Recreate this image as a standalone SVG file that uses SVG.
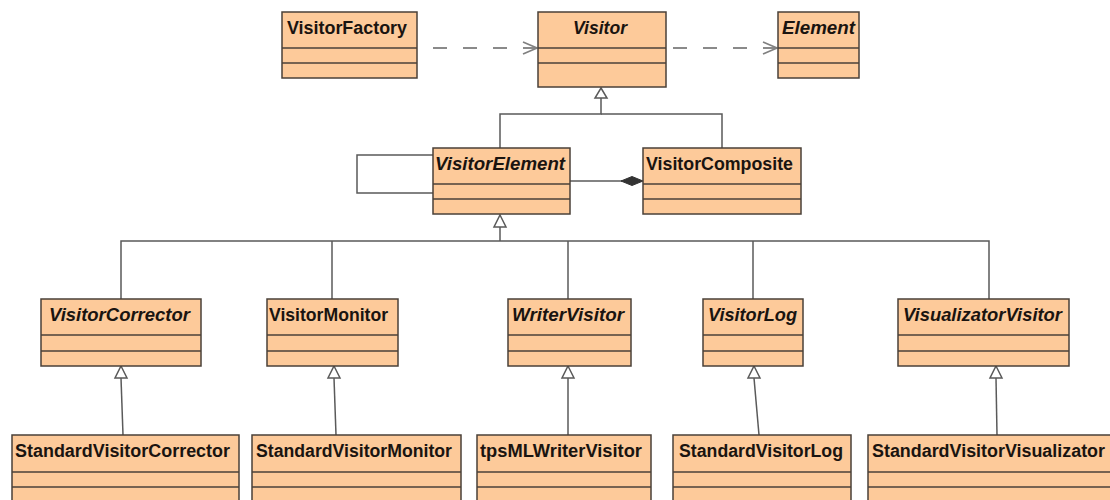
<svg xmlns="http://www.w3.org/2000/svg" width="1110" height="500" viewBox="0 0 1110 500">
<defs>
<style>
.box{fill:#fdca9a;stroke:#4a4038;stroke-width:1.5}
.sep{stroke:#4a4038;stroke-width:1.5}
.t{font-family:"Liberation Sans",Arial,sans-serif;font-weight:bold;font-size:18px;fill:#1a1410}
.i{font-style:italic}
.ln{fill:none;stroke:#5a5a5a;stroke-width:1.5}
.dash{fill:none;stroke:#8a8a8a;stroke-width:2;stroke-dasharray:14 16}
.tri{fill:#fff;stroke:#5a5a5a;stroke-width:1.5}
</style>
<marker id="open" viewBox="0 0 16 14" refX="15" refY="7" markerWidth="16" markerHeight="14" markerUnits="userSpaceOnUse" orient="auto">
<path d="M1,1 L15,7 L1,13" fill="none" stroke="#808080" stroke-width="1.7"/>
</marker>
</defs>
<rect width="1110" height="500" fill="#fff"/>

<g id="connectors">
<line class="dash" x1="433" y1="48" x2="537" y2="48" marker-end="url(#open)"/>
<line class="dash" x1="673" y1="48" x2="777" y2="48" marker-end="url(#open)"/>
<polyline class="ln" points="601,98 601,114 500,114 500,148"/>
<polyline class="ln" points="601,114 722,114 722,148"/>
<path class="tri" d="M601,88 L607,98 L595,98 Z"/>
<polyline class="ln" points="433,155 357,155 357,193 433,193"/>
<line class="ln" x1="570" y1="181" x2="622" y2="181"/>
<path d="M643,181 L632,176.5 L621,181 L632,185.5 Z" fill="#333" stroke="#333"/>
<polyline class="ln" points="500,227 500,241"/>
<polyline class="ln" points="121,299 121,241 989,241 989,299"/>
<line class="ln" x1="332" y1="241" x2="332" y2="299"/>
<line class="ln" x1="568" y1="241" x2="568" y2="299"/>
<line class="ln" x1="753" y1="241" x2="753" y2="299"/>
<path class="tri" d="M500,215 L506,227 L494,227 Z"/>
<line class="ln" x1="121" y1="378" x2="123" y2="435"/>
<line class="ln" x1="334" y1="378" x2="336" y2="435"/>
<line class="ln" x1="568" y1="378" x2="568" y2="435"/>
<line class="ln" x1="754" y1="378" x2="759" y2="435"/>
<line class="ln" x1="996" y1="378" x2="997" y2="435"/>
<path class="tri" d="M121,366 L127,378 L115,378 Z"/>
<path class="tri" d="M334,366 L340,378 L328,378 Z"/>
<path class="tri" d="M568,366 L574,378 L562,378 Z"/>
<path class="tri" d="M754,366 L760,378 L748,378 Z"/>
<path class="tri" d="M996,366 L1002,378 L990,378 Z"/>
</g>

<g id="VisitorFactory">
<rect class="box" x="282" y="12" width="135" height="66"/>
<line class="sep" x1="282" y1="48" x2="417" y2="48"/><line class="sep" x1="282" y1="63" x2="417" y2="63"/>
<text class="t" x="287" y="34" textLength="120" lengthAdjust="spacingAndGlyphs">VisitorFactory</text>
</g>
<g id="Visitor">
<rect class="box" x="538" y="12" width="128" height="75"/>
<line class="sep" x1="538" y1="48" x2="666" y2="48"/><line class="sep" x1="538" y1="63" x2="666" y2="63"/>
<text class="t i" x="573" y="34" textLength="54" lengthAdjust="spacingAndGlyphs">Visitor</text>
</g>
<g id="Element">
<rect class="box" x="778" y="12" width="81" height="66"/>
<line class="sep" x1="778" y1="48" x2="859" y2="48"/><line class="sep" x1="778" y1="63" x2="859" y2="63"/>
<text class="t i" x="782" y="34" textLength="73" lengthAdjust="spacingAndGlyphs">Element</text>
</g>
<g id="VisitorElement">
<rect class="box" x="433" y="148" width="137" height="66"/>
<line class="sep" x1="433" y1="184" x2="570" y2="184"/><line class="sep" x1="433" y1="199" x2="570" y2="199"/>
<text class="t i" x="435" y="170" textLength="130" lengthAdjust="spacingAndGlyphs">VisitorElement</text>
</g>
<g id="VisitorComposite">
<rect class="box" x="643" y="148" width="158" height="66"/>
<line class="sep" x1="643" y1="184" x2="801" y2="184"/><line class="sep" x1="643" y1="199" x2="801" y2="199"/>
<text class="t" x="646" y="170" textLength="147" lengthAdjust="spacingAndGlyphs">VisitorComposite</text>
</g>

<g id="VisitorCorrector">
<rect class="box" x="41" y="299" width="160" height="67"/>
<line class="sep" x1="41" y1="335" x2="201" y2="335"/><line class="sep" x1="41" y1="351" x2="201" y2="351"/>
<text class="t i" x="49" y="321" textLength="141" lengthAdjust="spacingAndGlyphs">VisitorCorrector</text>
</g>
<g id="VisitorMonitor">
<rect class="box" x="267" y="299" width="131" height="67"/>
<line class="sep" x1="267" y1="335" x2="398" y2="335"/><line class="sep" x1="267" y1="351" x2="398" y2="351"/>
<text class="t" x="269" y="321" textLength="119" lengthAdjust="spacingAndGlyphs">VisitorMonitor</text>
</g>
<g id="WriterVisitor">
<rect class="box" x="508" y="299" width="123" height="67"/>
<line class="sep" x1="508" y1="335" x2="631" y2="335"/><line class="sep" x1="508" y1="351" x2="631" y2="351"/>
<text class="t i" x="512" y="321" textLength="112" lengthAdjust="spacingAndGlyphs">WriterVisitor</text>
</g>
<g id="VisitorLog">
<rect class="box" x="703" y="299" width="100" height="67"/>
<line class="sep" x1="703" y1="335" x2="803" y2="335"/><line class="sep" x1="703" y1="351" x2="803" y2="351"/>
<text class="t i" x="708" y="321" textLength="89" lengthAdjust="spacingAndGlyphs">VisitorLog</text>
</g>
<g id="VisualizatorVisitor">
<rect class="box" x="898" y="299" width="171" height="67"/>
<line class="sep" x1="898" y1="335" x2="1069" y2="335"/><line class="sep" x1="898" y1="351" x2="1069" y2="351"/>
<text class="t i" x="903" y="321" textLength="159" lengthAdjust="spacingAndGlyphs">VisualizatorVisitor</text>
</g>

<g id="StandardVisitorCorrector">
<rect class="box" x="12" y="435" width="227" height="80"/>
<line class="sep" x1="12" y1="472" x2="239" y2="472"/><line class="sep" x1="12" y1="487" x2="239" y2="487"/>
<text class="t" x="15" y="457" textLength="215" lengthAdjust="spacingAndGlyphs">StandardVisitorCorrector</text>
</g>
<g id="StandardVisitorMonitor">
<rect class="box" x="252" y="435" width="209" height="80"/>
<line class="sep" x1="252" y1="472" x2="461" y2="472"/><line class="sep" x1="252" y1="487" x2="461" y2="487"/>
<text class="t" x="256" y="457" textLength="196" lengthAdjust="spacingAndGlyphs">StandardVisitorMonitor</text>
</g>
<g id="tpsMLWriterVisitor">
<rect class="box" x="477" y="435" width="174" height="80"/>
<line class="sep" x1="477" y1="472" x2="651" y2="472"/><line class="sep" x1="477" y1="487" x2="651" y2="487"/>
<text class="t" x="480" y="457" textLength="162" lengthAdjust="spacingAndGlyphs">tpsMLWriterVisitor</text>
</g>
<g id="StandardVisitorLog">
<rect class="box" x="673" y="435" width="178" height="80"/>
<line class="sep" x1="673" y1="472" x2="851" y2="472"/><line class="sep" x1="673" y1="487" x2="851" y2="487"/>
<text class="t" x="679" y="457" textLength="164" lengthAdjust="spacingAndGlyphs">StandardVisitorLog</text>
</g>
<g id="StandardVisitorVisualizator">
<rect class="box" x="868" y="435" width="250" height="80"/>
<line class="sep" x1="868" y1="472" x2="1118" y2="472"/><line class="sep" x1="868" y1="487" x2="1118" y2="487"/>
<text class="t" x="872" y="457" textLength="233" lengthAdjust="spacingAndGlyphs">StandardVisitorVisualizator</text>
</g>
</svg>
